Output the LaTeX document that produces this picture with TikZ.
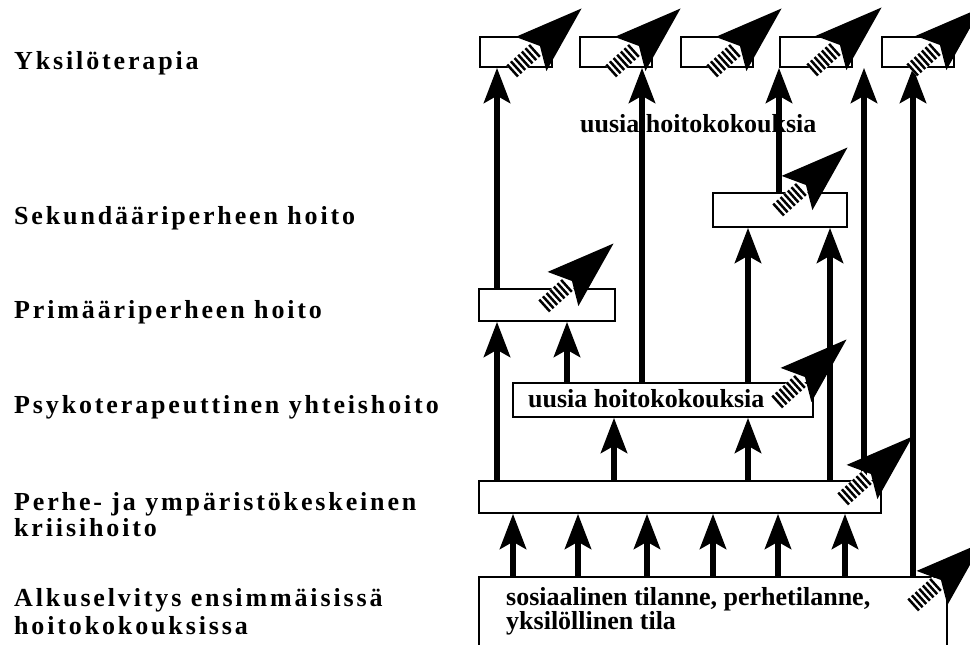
\documentclass[tikz,border=0pt]{standalone}
\usepackage{fontspec}
\setmainfont{Liberation Serif}
\newfontfamily\lblfont{Liberation Serif}[LetterSpace=11]
\usetikzlibrary{arrows.meta}
\begin{document}
\begin{tikzpicture}[x=1pt,y=-1pt,
  box/.style={draw, line width=1.6pt, fill=white, inner sep=0pt},
  conn/.style={line width=6.5pt},
  uparrow/.style={conn, -{Stealth[length=35pt,width=26pt,inset=7pt]}},
  lbl/.style={anchor=base west, inner sep=0pt, font=\lblfont\bfseries\fontsize{26}{26}\selectfont},
  txt/.style={anchor=base west, inner sep=0pt, font=\bfseries\fontsize{26}{26}\selectfont},
  hatcharrow/.pic={
    \begin{scope}[rotate=42]
      \fill[white] (-26,-8) rectangle (8,8);
      \foreach \i in {0,...,6} \fill (-26+\i*4.9,-8) rectangle ++(2.5,16);
      \fill (0,-23) -- (68,0) -- (0,23) -- (12,0) -- cycle;
    \end{scope}
  }]
\useasboundingbox (0,0) rectangle (970,645);

% labels
\node[lbl] (l1) at (14,69) {Yksilöterapia};
\node[lbl] (l2) at (14,224) {Sekundääriperheen hoito};
\node[lbl] (l3) at (14,318) {Primääriperheen hoito};
\node[lbl] (l4) at (14,413) {Psykoterapeuttinen yhteishoito};
\node[lbl] (l5a) at (14,510) {Perhe- ja ympäristökeskeinen};
\node[lbl] (l5b) at (14,536) {kriisihoito};
\node[lbl] (l6a) at (14,606) {Alkuselvitys ensimmäisissä};
\node[lbl] (l6b) at (14,634) {hoitokokouksissa};

% boxes
\node[box, minimum width=72pt, minimum height=30pt] (t1) at (516,52) {};
\node[box, minimum width=72pt, minimum height=30pt] (t2) at (616,52) {};
\node[box, minimum width=72pt, minimum height=30pt] (t3) at (717,52) {};
\node[box, minimum width=72pt, minimum height=30pt] (t4) at (816,52) {};
\node[box, minimum width=72pt, minimum height=30pt] (t5) at (918,52) {};
\node[box, minimum width=134pt, minimum height=34pt] (sec) at (780,210) {};
\node[box, minimum width=136pt, minimum height=32pt] (prim) at (547,305) {};
\node[box, minimum width=300pt, minimum height=34pt] (psy) at (663,400) {};
\node[box, minimum width=402pt, minimum height=32pt] (cri) at (680,497) {};
\node[box, minimum width=468pt, minimum height=90pt] (bot) at (713,622) {};

% texts
\node[txt] (topnew) at (580,132) {uusia hoitokokouksia};
\node[txt] (psynew) at (528,407) {uusia hoitokokouksia};
\node[anchor=north west, inner sep=0pt, align=left,
      font=\bfseries\fontsize{26}{20}\selectfont] (bottxt) at (506,587)
  {sosiaalinen tilanne, perhetilanne,\\yksilöllinen tila};

% x positions
\foreach \n/\x in {a/497,b/567,c/614,d/642,e/748,f/779,g/830,h/864,i/913,
                   k1/513,k2/578,k3/647,k4/713,k5/778,k6/845}
  \coordinate (v\n) at (\x,0);

% connectors
\draw[uparrow] (cri.north -| va) -- (prim.south -| va);
\draw[uparrow] (prim.north -| va) -- (t1.south -| va);
\draw[uparrow] (psy.north -| vb) -- (prim.south -| vb);
\draw[uparrow] (psy.north -| vd) -- (t2.south -| vd);
\draw[uparrow] (psy.north -| ve) -- (sec.south -| ve);
\draw[uparrow] (sec.north -| vf) -- (t4.south -| vf);
\draw[uparrow] (cri.north -| vg) -- (sec.south -| vg);
\draw[uparrow] (cri.north -| vh) -- (t4.south -| vh);
\draw[uparrow] (bot.north -| vi) -- (t5.south -| vi);
\draw[uparrow] (cri.north -| vc) -- (psy.south -| vc);
\draw[uparrow] (cri.north -| ve) -- (psy.south -| ve);
\foreach \k in {k1,k2,k3,k4,k5,k6}
  \draw[uparrow] (bot.north -| v\k) -- (cri.south -| v\k);

% hatched arrows
\pic at (531,54) {hatcharrow};
\pic at (630,54) {hatcharrow};
\pic at (731,54) {hatcharrow};
\pic at (831,53) {hatcharrow};
\pic at (931,53) {hatcharrow};
\pic at (797,193) {hatcharrow};
\pic at (563,289) {hatcharrow};
\pic at (796,385) {hatcharrow};
\pic at (862,482) {hatcharrow};
\pic at (932,588) {hatcharrow};
\end{tikzpicture}
\end{document}
